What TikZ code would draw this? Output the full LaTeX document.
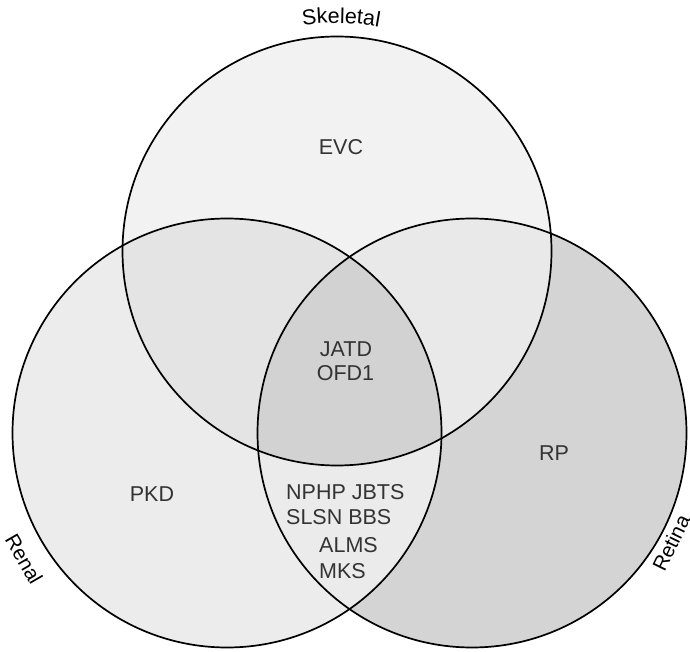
\documentclass[tikz,border=0pt]{standalone}
\usepackage{fontspec}
\setmainfont{Liberation Sans}
\usetikzlibrary{decorations.text}

\definecolor{ink}{HTML}{333333}
\definecolor{onlyS}{HTML}{F2F2F2}
\definecolor{onlyL}{HTML}{ECECEC}
\definecolor{onlyR}{HTML}{D4D4D4}
\definecolor{pairSL}{HTML}{E4E4E4}
\definecolor{pairSR}{HTML}{E9E9E9}
\definecolor{pairLR}{HTML}{EBEBEB}
\definecolor{triple}{HTML}{D2D2D2}

\newcommand\vennfont{\fontsize{21.5}{25}\selectfont}
\newcommand\sidefont{\fontsize{20.5}{24}\selectfont}

\tikzset{
  ring/.style={draw=black, line width=1.7pt},
  gene/.style={font=\vennfont, text=ink, inner sep=0pt, anchor=base west},
  genec/.style={font=\vennfont, text=ink, inner sep=0pt, anchor=base},
  setname/.style={font=\sidefont, text=black, inner sep=0pt},
  arclabel/.style={decorate, decoration={text along path, text align=center,
      text={|\vennfont|#1}}},
}

\begin{document}
\begin{tikzpicture}[x=1pt,y=1pt]
  \useasboundingbox (0,0) rectangle (690,651);
  \def\rad{214.5}
  \coordinate (S) at (337,400);  % Skeletal
  \coordinate (L) at (227,218);  % Renal
  \coordinate (E) at (472,218);  % Retina

  % single-set fills
  \fill[onlyS] (S) circle (\rad);
  \fill[onlyL] (L) circle (\rad);
  \fill[onlyR] (E) circle (\rad);
  % pairwise overlaps
  \begin{scope}\clip (S) circle (\rad); \fill[pairSL] (L) circle (\rad);\end{scope}
  \begin{scope}\clip (S) circle (\rad); \fill[pairSR] (E) circle (\rad);\end{scope}
  \begin{scope}\clip (L) circle (\rad); \fill[pairLR] (E) circle (\rad);\end{scope}
  % common core
  \begin{scope}\clip (S) circle (\rad); \clip (L) circle (\rad);
    \fill[triple] (E) circle (\rad);\end{scope}

  % outlines
  \draw[ring] (S) circle (\rad);
  \draw[ring] (L) circle (\rad);
  \draw[ring] (E) circle (\rad);

  % set names: the top one bent along its ring, the side ones tilted
  \path[arclabel=Skeletal] (S) ++(104:228) arc (104:74:228);
  \node[setname, rotate=-60] (renal) at (24,92) {Renal};
  \node[setname, rotate=64] (retina) at (671,108) {Retina};

  % region contents
  \node[genec] (evc) at (341,496) {EVC};
  \node[genec] (jatd) at (346,294) {JATD};
  \node[genec] (ofd) at (345.5,270) {OFD1};
  \node[genec] (pkd) at (152,150) {PKD};
  \node[genec] (rp) at (554,191) {RP};
  \node[gene] (nphp) at (286,152) {NPHP JBTS};
  \node[gene] (slsn) at (286,127) {SLSN BBS};
  \node[gene] (alms) at (319,99) {ALMS};
  \node[gene] (mks) at (319,73) {MKS};
\end{tikzpicture}
\end{document}
